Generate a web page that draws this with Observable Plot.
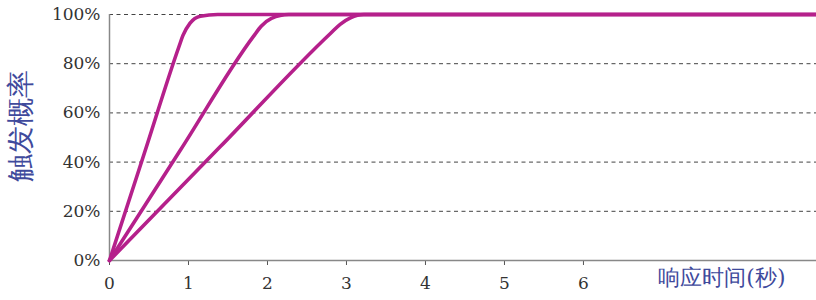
<!DOCTYPE html>
<html><head><meta charset="utf-8">
<script src="https://cdn.jsdelivr.net/npm/d3@7"></script>
<script src="https://cdn.jsdelivr.net/npm/@observablehq/plot@0.6"></script>
<style>body{margin:0;background:#fff} svg text{font-family:'DejaVu Serif', serif}</style>
</head><body><div id="chart"></div>
<script>
const xTicks = [0, 1, 2, 3, 4, 5, 6];
const yTicks = [0, 20, 40, 60, 80, 100];
const gridValues = [20, 40, 60, 80, 100];
const xLabel = "响应时间(秒)";
const yLabel = "触发概率";
// three response curves: [time (s), probability %]
const curveA = [[0,0],[0.44,43.5],[0.88,87],[0.93,91.5],[1.02,96.5],[1.15,99.3],[1.37,100],[8.95,100]];
const curveB = [[0,0],[0.9,45],[1.82,91],[1.92,95.2],[2.05,98.4],[2.27,100],[8.95,100]];
const curveC = [[0,0],[1.4,46.2],[2.8,92.4],[2.92,96],[3.05,98.6],[3.22,100],[8.95,100]];
const series = [curveA, curveB, curveC];
const data = series.flatMap((s, i) => s.map(([t, p]) => ({t, p, k: i})));
const serif = "DejaVu Serif";
const cjk = "Noto Sans CJK SC";

const chart = Plot.plot({
  width: 816, height: 300,
  marginLeft: 109, marginRight: 0, marginTop: 14, marginBottom: 40,
  style: {fontSize: "17px", color: "#333", background: "#fff"},
  x: {domain: [0, 8.95], label: null},
  y: {domain: [0, 100], label: null},
  marks: [
    Plot.ruleY(gridValues, {stroke: "#444", strokeDasharray: "4,3.5", strokeWidth: 1}),
    Plot.axisX({ticks: xTicks, tickFormat: d => String(d), tickSize: 5, tickPadding: 11, stroke: "#555", fill: "#333", fontSize: 17, fontFamily: serif}),
    Plot.axisY({ticks: yTicks, tickFormat: d => d + "%", tickSize: 0, tickPadding: 9, fill: "#333", fontSize: 17, fontFamily: serif}),
    Plot.ruleX([0], {stroke: "#888", strokeWidth: 1.5}),
    Plot.ruleY([0], {stroke: "#888", strokeWidth: 1.5}),
    Plot.line(data, {x: "t", y: "p", z: "k", stroke: "#b5208b", strokeWidth: 3.6, curve: "monotone-x"}),
    Plot.text([xLabel], {frameAnchor: "bottom-right", dx: -31, dy: 24, textAnchor: "end", fill: "#3f4a9c", fontSize: 22, fontFamily: cjk}),
    Plot.text([yLabel], {frameAnchor: "left", dx: -88, dy: -12, rotate: -90, textAnchor: "middle", fill: "#3f4a9c", fontSize: 28, fontFamily: cjk})
  ]
});
document.getElementById("chart").appendChild(chart);
</script>
</body></html>
